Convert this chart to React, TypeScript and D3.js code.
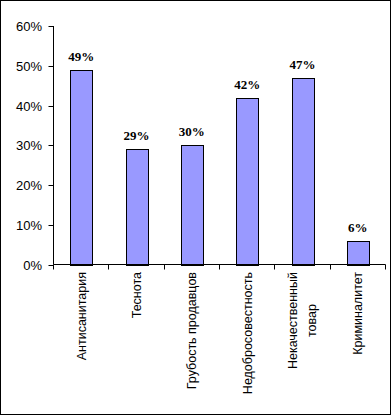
import React, { useRef, useEffect } from "react";
import * as d3 from "d3";

const categories = [
	"Антисанитария",
	"Теснота",
	"Грубость продавцов",
	"Недобросовестность",
	"Некачественный товар",
	"Криминалитет",
];
const values = [49, 29, 30, 42, 47, 6];
const yTicks = [0, 10, 20, 30, 40, 50, 60];

const W = 391;
const H = 415;

const App = () => {
	const svgRef = useRef<SVGSVGElement>(null);

	useEffect(() => {
		const svg = d3.select(svgRef.current);
		svg.selectChildren().remove();

		// plot area
		const left = 53.5, right = 385.5, top = 26, bottom = 264.5;

		const x = d3.scaleBand<string>().domain(categories).range([left, right]).paddingInner(0).paddingOuter(0);
		const y = d3.scaleLinear().domain([0, 60]).range([bottom, top]);

		// outer frame
		svg.append("rect")
			.attr("x", 0.5).attr("y", 0.5)
			.attr("width", W - 1).attr("height", H - 1)
			.attr("fill", "#fff").attr("stroke", "#000");

		// bars
		const barW = 22;
		svg.append("g").selectAll("rect")
			.data(values)
			.join("rect")
			.attr("x", (d, i) => Math.round(x(categories[i])! + x.bandwidth() / 2 - barW / 2) + 0.5)
			.attr("y", d => Math.round(y(d)) + 0.5)
			.attr("width", barW)
			.attr("height", d => Math.round(bottom) - Math.round(y(d)))
			.attr("fill", "#9999FF")
			.attr("stroke", "#000")
			.attr("stroke-width", 1);

		// value labels
		svg.append("g").selectAll("text")
			.data(values)
			.join("text")
			.attr("x", (d, i) => x(categories[i])! + x.bandwidth() / 2)
			.attr("y", d => y(d) - 9)
			.attr("text-anchor", "middle")
			.attr("font-family", "Liberation Serif, Times New Roman, serif")
			.attr("font-weight", "bold")
			.attr("font-size", "13px")
			.text(d => d + "%");

		// y axis
		const yg = svg.append("g");
		yg.append("line")
			.attr("x1", left).attr("x2", left)
			.attr("y1", top).attr("y2", bottom)
			.attr("stroke", "#000");
		yTicks.forEach(t => {
			const ty = Math.round(y(t)) + 0.5;
			yg.append("line")
				.attr("x1", left - 5).attr("x2", left)
				.attr("y1", ty).attr("y2", ty)
				.attr("stroke", "#000");
			yg.append("text")
				.attr("x", 42).attr("y", ty)
				.attr("dy", "0.35em")
				.attr("text-anchor", "end")
				.attr("font-family", "Arial, Liberation Sans, sans-serif")
				.attr("font-size", "13px")
				.text(t + "%");
		});

		// x axis
		const xg = svg.append("g");
		xg.append("line")
			.attr("x1", left).attr("x2", right)
			.attr("y1", bottom).attr("y2", bottom)
			.attr("stroke", "#000");
		const edges = categories.map(c => x(c)!).concat([right]);
		edges.forEach(e => {
			const ex = Math.round(e - 0.5) + 0.5;
			xg.append("line")
				.attr("x1", ex).attr("x2", ex)
				.attr("y1", bottom).attr("y2", bottom + 5)
				.attr("stroke", "#000");
		});

		// category labels, rotated, wrapped when long
		categories.forEach(c => {
			const lines = c.length > 19 ? c.split(" ") : [c];
			const cx = x(c)! + x.bandwidth() / 2;
			const g = xg.append("g").attr("transform", `translate(${cx}, 272) rotate(-90)`);
			const texts = lines.map((ln, i) =>
				g.append("text")
					.attr("y", (i - (lines.length - 1) / 2) * 19)
					.attr("dy", "0.35em")
					.attr("text-anchor", "middle")
					.attr("font-family", "Arial, Liberation Sans, sans-serif")
					.attr("font-size", "12.5px")
					.text(ln)
			);
			const lens = texts.map(t => (t.node() as SVGTextElement).getComputedTextLength());
			const maxLen = d3.max(lens) || 0;
			texts.forEach(t => t.attr("x", -maxLen / 2));
		});
	});

	return (
		<div>
			<svg ref={svgRef} width={W} height={H} style={{ position: "absolute", left: 0, top: 0 }}></svg>
		</div>
	);
};

export default App;
